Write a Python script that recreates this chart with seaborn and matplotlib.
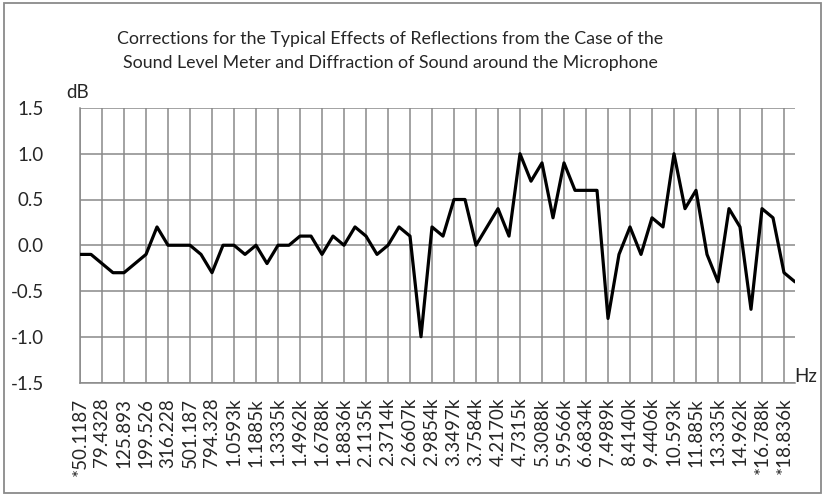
import numpy as np
import pandas as pd
import seaborn as sns
import matplotlib
matplotlib.use("Agg")
import matplotlib.pyplot as plt
from matplotlib.patches import Rectangle

# Frequency labels shown on every other point of the series
tick_labels = [
    "*50.1187", "79.4328", "125.893", "199.526", "316.228", "501.187",
    "794.328", "1.0593k", "1.1885k", "1.3335k", "1.4962k", "1.6788k",
    "1.8836k", "2.1135k", "2.3714k", "2.6607k", "2.9854k", "3.3497k",
    "3.7584k", "4.2170k", "4.7315k", "5.3088k", "5.9566k", "6.6834k",
    "7.4989k", "8.4140k", "9.4406k", "10.593k", "11.885k", "13.335k",
    "14.962k", "*16.788k", "*18.836k",
]

# Correction in dB for each measured frequency point
corrections = [
    -0.1, -0.1, -0.2, -0.3, -0.3, -0.2, -0.1, 0.2, 0.0, 0.0,
    0.0, -0.1, -0.3, 0.0, 0.0, -0.1, 0.0, -0.2, 0.0, 0.0,
    0.1, 0.1, -0.1, 0.1, 0.0, 0.2, 0.1, -0.1, 0.0, 0.2,
    0.1, -1.0, 0.2, 0.1, 0.5, 0.5, 0.0, 0.2, 0.4, 0.1,
    1.0, 0.7, 0.9, 0.3, 0.9, 0.6, 0.6, 0.6, -0.8, -0.1,
    0.2, -0.1, 0.3, 0.2, 1.0, 0.4, 0.6, -0.1, -0.4, 0.4,
    0.2, -0.7, 0.4, 0.3, -0.3, -0.4,
]

y_ticks = [-1.5, -1.0, -0.5, 0.0, 0.5, 1.0, 1.5]

title = ("Corrections for the Typical Effects of Reflections from the Case of the\n"
         "Sound Level Meter and Diffraction of Sound around the Microphone")

df = pd.DataFrame({"point": np.arange(len(corrections)), "dB": corrections})

sns.set_theme(style="white")
plt.rcParams["font.family"] = ["Lato", "DejaVu Sans"]

W, H = 824, 495
fig = plt.figure(figsize=(W / 100, H / 100), dpi=100)
ax = fig.add_axes([80 / W, 1 - 382.5 / H, 715 / W, 274.5 / H])

grid_color = "#898989"
sns.lineplot(data=df, x="point", y="dB", ax=ax, color="black",
             linewidth=2.3, zorder=3)
ax.lines[0].set_solid_joinstyle("round")

n = len(corrections)
ax.set_xlim(0, n - 1)
ax.set_ylim(-1.5, 1.5)

major = np.arange(0, n, 2)[: len(tick_labels)]
ax.set_xticks(major)
ax.set_xticklabels(tick_labels, rotation=90, fontsize=13.5, va="top")
ax.set_yticks(y_ticks)
ax.set_yticklabels([f"{v:.1f}" for v in y_ticks], fontsize=13.5)
ax.tick_params(axis="x", length=0, pad=11)
ax.tick_params(axis="y", length=0, pad=26)

for xv in major:
    ax.axvline(xv, color=grid_color, linewidth=1.1, zorder=1)
for yv in y_ticks:
    ax.axhline(yv, color=grid_color, linewidth=1.1, zorder=1)

for side in ["top", "right"]:
    ax.spines[side].set_visible(False)
for side in ["left", "bottom"]:
    ax.spines[side].set_color(grid_color)
    ax.spines[side].set_linewidth(1.1)

ax.set_xlabel("")
ax.set_ylabel("")

fig.text(78 / W, 1 - 92 / H, "dB", fontsize=13.5, ha="center", va="center")
fig.text(806 / W, 1 - 377 / H, "Hz", fontsize=13.5, ha="center", va="center")
fig.text(390 / W, 1 - 51 / H, title, fontsize=12.8, ha="center", va="center",
         linespacing=1.55)

fig.patches.append(Rectangle((4 / W, 2 / H), 817 / W, 490 / H,
                             transform=fig.transFigure, fill=False,
                             edgecolor="#8a8a8a", linewidth=1.3))

fig.savefig("out.png", dpi=100)
